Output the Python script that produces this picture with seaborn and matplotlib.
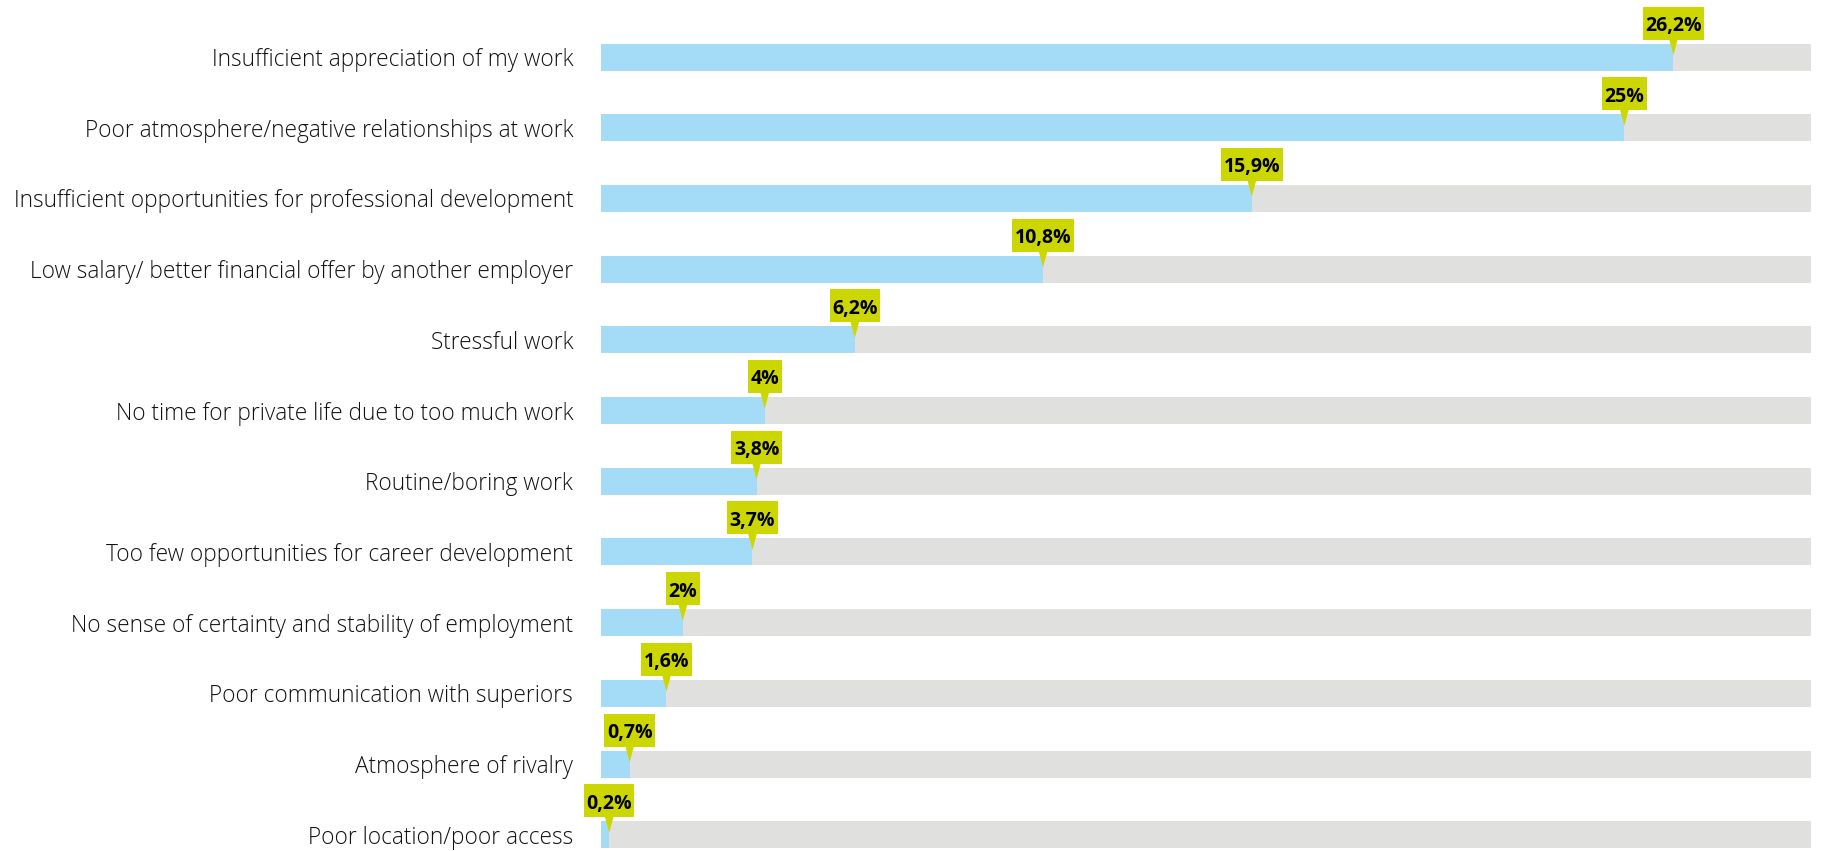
import matplotlib
matplotlib.use("Agg")
import matplotlib.pyplot as plt
from matplotlib.patches import Rectangle, Polygon
from matplotlib.transforms import IdentityTransform, ScaledTranslation
import seaborn as sns
import pandas as pd

# Reasons for leaving, share of respondents (%)
reasons = [
    "Insufficient appreciation of my work",
    "Poor atmosphere/negative relationships at work",
    "Insufficient opportunities for professional development",
    "Low salary/ better financial offer by another employer",
    "Stressful work",
    "No time for private life due to too much work",
    "Routine/boring work",
    "Too few opportunities for career development",
    "No sense of certainty and stability of employment",
    "Poor communication with superiors",
    "Atmosphere of rivalry",
    "Poor location/poor access",
]
shares = [26.2, 25.0, 15.9, 10.8, 6.2, 4.0, 3.8, 3.7, 2.0, 1.6, 0.7, 0.2]
value_labels = ["26,2%", "25%", "15,9%", "10,8%", "6,2%", "4%", "3,8%",
                "3,7%", "2%", "1,6%", "0,7%", "0,2%"]
track_max = 29.56

BLUE = "#A4DBF7"
TRACK = "#E0E0DF"
CALLOUT = "#CCD600"

sns.set_theme(style="white")
plt.rcParams["font.family"] = ["Open Sans", "DejaVu Sans"]

df = pd.DataFrame({"reason": reasons, "share": shares,
                   "track": [track_max] * len(reasons)})

W, H, DPI = 1823, 851, 100
fig = plt.figure(figsize=(W / DPI, H / DPI), dpi=DPI)
ax = fig.add_axes([601 / W, 0, 1210 / W, 1])

bar_h = 27 / 70.7
sns.barplot(data=df, x="track", y="reason", color=TRACK, width=bar_h,
            saturation=1, linewidth=0, ax=ax, orient="h")
sns.barplot(data=df, x="share", y="reason", color=BLUE, width=bar_h,
            saturation=1, linewidth=0, ax=ax, orient="h")

ax.set_xlim(0, track_max)
ax.set_ylim((851 - 57) / 70.7, -57 / 70.7)
for s in ax.spines.values():
    s.set_visible(False)
ax.set_xlabel("")
ax.set_ylabel("")
ax.set_xticks([])
ax.tick_params(axis="y", length=0, pad=20)
for lab in ax.get_yticklabels():
    lab.set_fontsize(16.3)
    lab.set_fontweight("light")
    lab.set_color("#111111")

# Value callouts: a filled label box with a small pointer down into the bar
fig.canvas.draw()
renderer = fig.canvas.get_renderer()
box_h = 33
for i, (val, txt) in enumerate(zip(shares, value_labels)):
    px, py = ax.transData.transform((val, i))
    box_bottom = py + 17.5
    t = ax.text(val, i, txt, fontsize=14, fontweight="bold", color="black",
                ha="center", va="center", zorder=7, clip_on=False)
    t.set_transform(ax.transData + ScaledTranslation(
        0, (17.5 + box_h / 2 - 3) / DPI, fig.dpi_scale_trans))
    ext = t.get_window_extent(renderer)
    bw = ext.width + 5
    ax.add_patch(Rectangle((px - bw / 2, box_bottom), bw, box_h,
                           transform=IdentityTransform(), facecolor=CALLOUT,
                           edgecolor="none", zorder=5, clip_on=False))
    ax.add_patch(Polygon([(px - 4.5, box_bottom + 1), (px + 4.5, box_bottom + 1),
                          (px, py + 2)], closed=True,
                         transform=IdentityTransform(), facecolor=CALLOUT,
                         edgecolor="none", zorder=5, clip_on=False))

fig.savefig("out.png", dpi=DPI, facecolor="white")
